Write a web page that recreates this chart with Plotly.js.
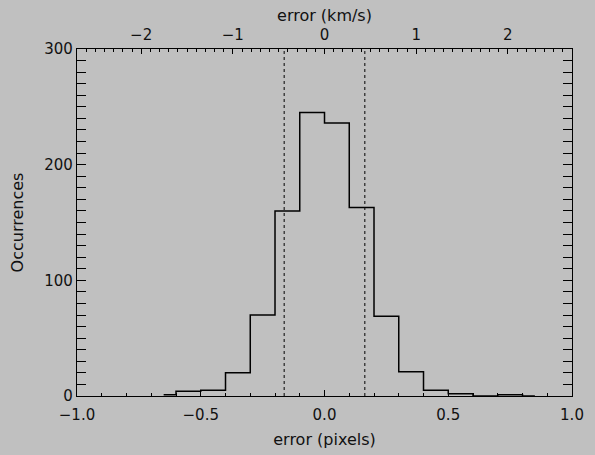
<!DOCTYPE html>
<html>
<head>
<meta charset="utf-8">
<script src="https://cdn.plot.ly/plotly-3.0.1.min.js"></script>
<style>html,body{margin:0;padding:0;background:#c0c0c0;}#chart{width:595px;height:455px;}</style>
</head>
<body>
<div id="chart"></div>
<script>
// Histogram bin centres (pixels) and counts, drawn in IDL psym=10 step style
const binCenters = [-0.65, -0.55, -0.45, -0.35, -0.25, -0.15, -0.05, 0.05, 0.15, 0.25, 0.35, 0.45, 0.55, 0.65, 0.75, 0.85];
const counts     = [1, 4, 5, 20, 70, 160, 245, 236, 163, 69, 21, 5, 2, 0, 1, 0];
// Dotted threshold lines (pixels)
const thresholds = [-0.163, 0.163];
const yRange = [0, 300];
const xRangePix = [-1.0, 1.0];
const xRangeKms = [-2.7, 2.7];
const xTicksPix = [-1.0, -0.5, 0.0, 0.5, 1.0];
const xTickTextPix = ['\u22121.0', '\u22120.5', '0.0', '0.5', '1.0'];
const xTicksKms = [-2, -1, 0, 1, 2];
const xTickTextKms = ['\u22122', '\u22121', '0', '1', '2'];
const yTicks = [0, 100, 200, 300];

const tickFont = {family: 'DejaVu Sans, sans-serif', size: 15, color: '#111'};
const titleFont = {family: 'DejaVu Sans, sans-serif', size: 16, color: '#111'};
const traces = [{
  x: binCenters, y: counts, type: 'scatter', mode: 'lines',
  line: {shape: 'hvh', color: '#000', width: 1.5}, hoverinfo: 'skip', showlegend: false
}];
thresholds.forEach(t => traces.push({
  x: [t, t], y: yRange, type: 'scatter', mode: 'lines',
  line: {color: '#000', width: 1, dash: 'dot'}, hoverinfo: 'skip', showlegend: false
}));
traces.push({x: [], y: [], xaxis: 'x2', yaxis: 'y', type: 'scatter', mode: 'lines', showlegend: false});

const layout = {
  width: 595, height: 455,
  paper_bgcolor: '#c0c0c0', plot_bgcolor: '#c0c0c0',
  margin: {l: 77, r: 23, t: 49, b: 59},
  font: tickFont,
  showlegend: false,
  xaxis: {
    range: xRangePix, tickvals: xTicksPix, ticktext: xTickTextPix,
    ticks: 'inside', ticklen: 6, tickwidth: 1, tickcolor: '#000',
    minor: {dtick: 0.1, ticks: 'inside', ticklen: 3, tickcolor: '#000', tickwidth: 1},
    showline: true, linecolor: '#000', linewidth: 1.2, mirror: true,
    showgrid: false, zeroline: false, tickfont: tickFont, ticklabelstandoff: 5,
    title: {text: 'error (pixels)', font: titleFont, standoff: 10}
  },
  xaxis2: {
    overlaying: 'x', side: 'top', anchor: 'y',
    range: xRangeKms, tickvals: xTicksKms, ticktext: xTickTextKms,
    ticks: 'inside', ticklen: 5, tickwidth: 1, tickcolor: '#000',
    minor: {dtick: 0.1, ticks: 'inside', ticklen: 3, tickcolor: '#000', tickwidth: 1},
    showline: false, showgrid: false, zeroline: false, tickfont: tickFont, ticklabelstandoff: 5,
    title: {text: 'error (km/s)', font: titleFont, standoff: 0}
  },
  yaxis: {
    range: yRange, tickvals: yTicks,
    ticks: 'inside', ticklen: 9, tickwidth: 1, tickcolor: '#000',
    minor: {dtick: 10, ticks: 'inside', ticklen: 4, tickcolor: '#000', tickwidth: 1},
    showline: true, linecolor: '#000', linewidth: 1.2, mirror: 'allticks',
    showgrid: false, zeroline: false, tickfont: tickFont,
    title: {text: 'Occurrences', font: titleFont, standoff: 16}
  }
};
Plotly.newPlot('chart', traces, layout, {staticPlot: true, displayModeBar: false});
</script>
</body>
</html>
